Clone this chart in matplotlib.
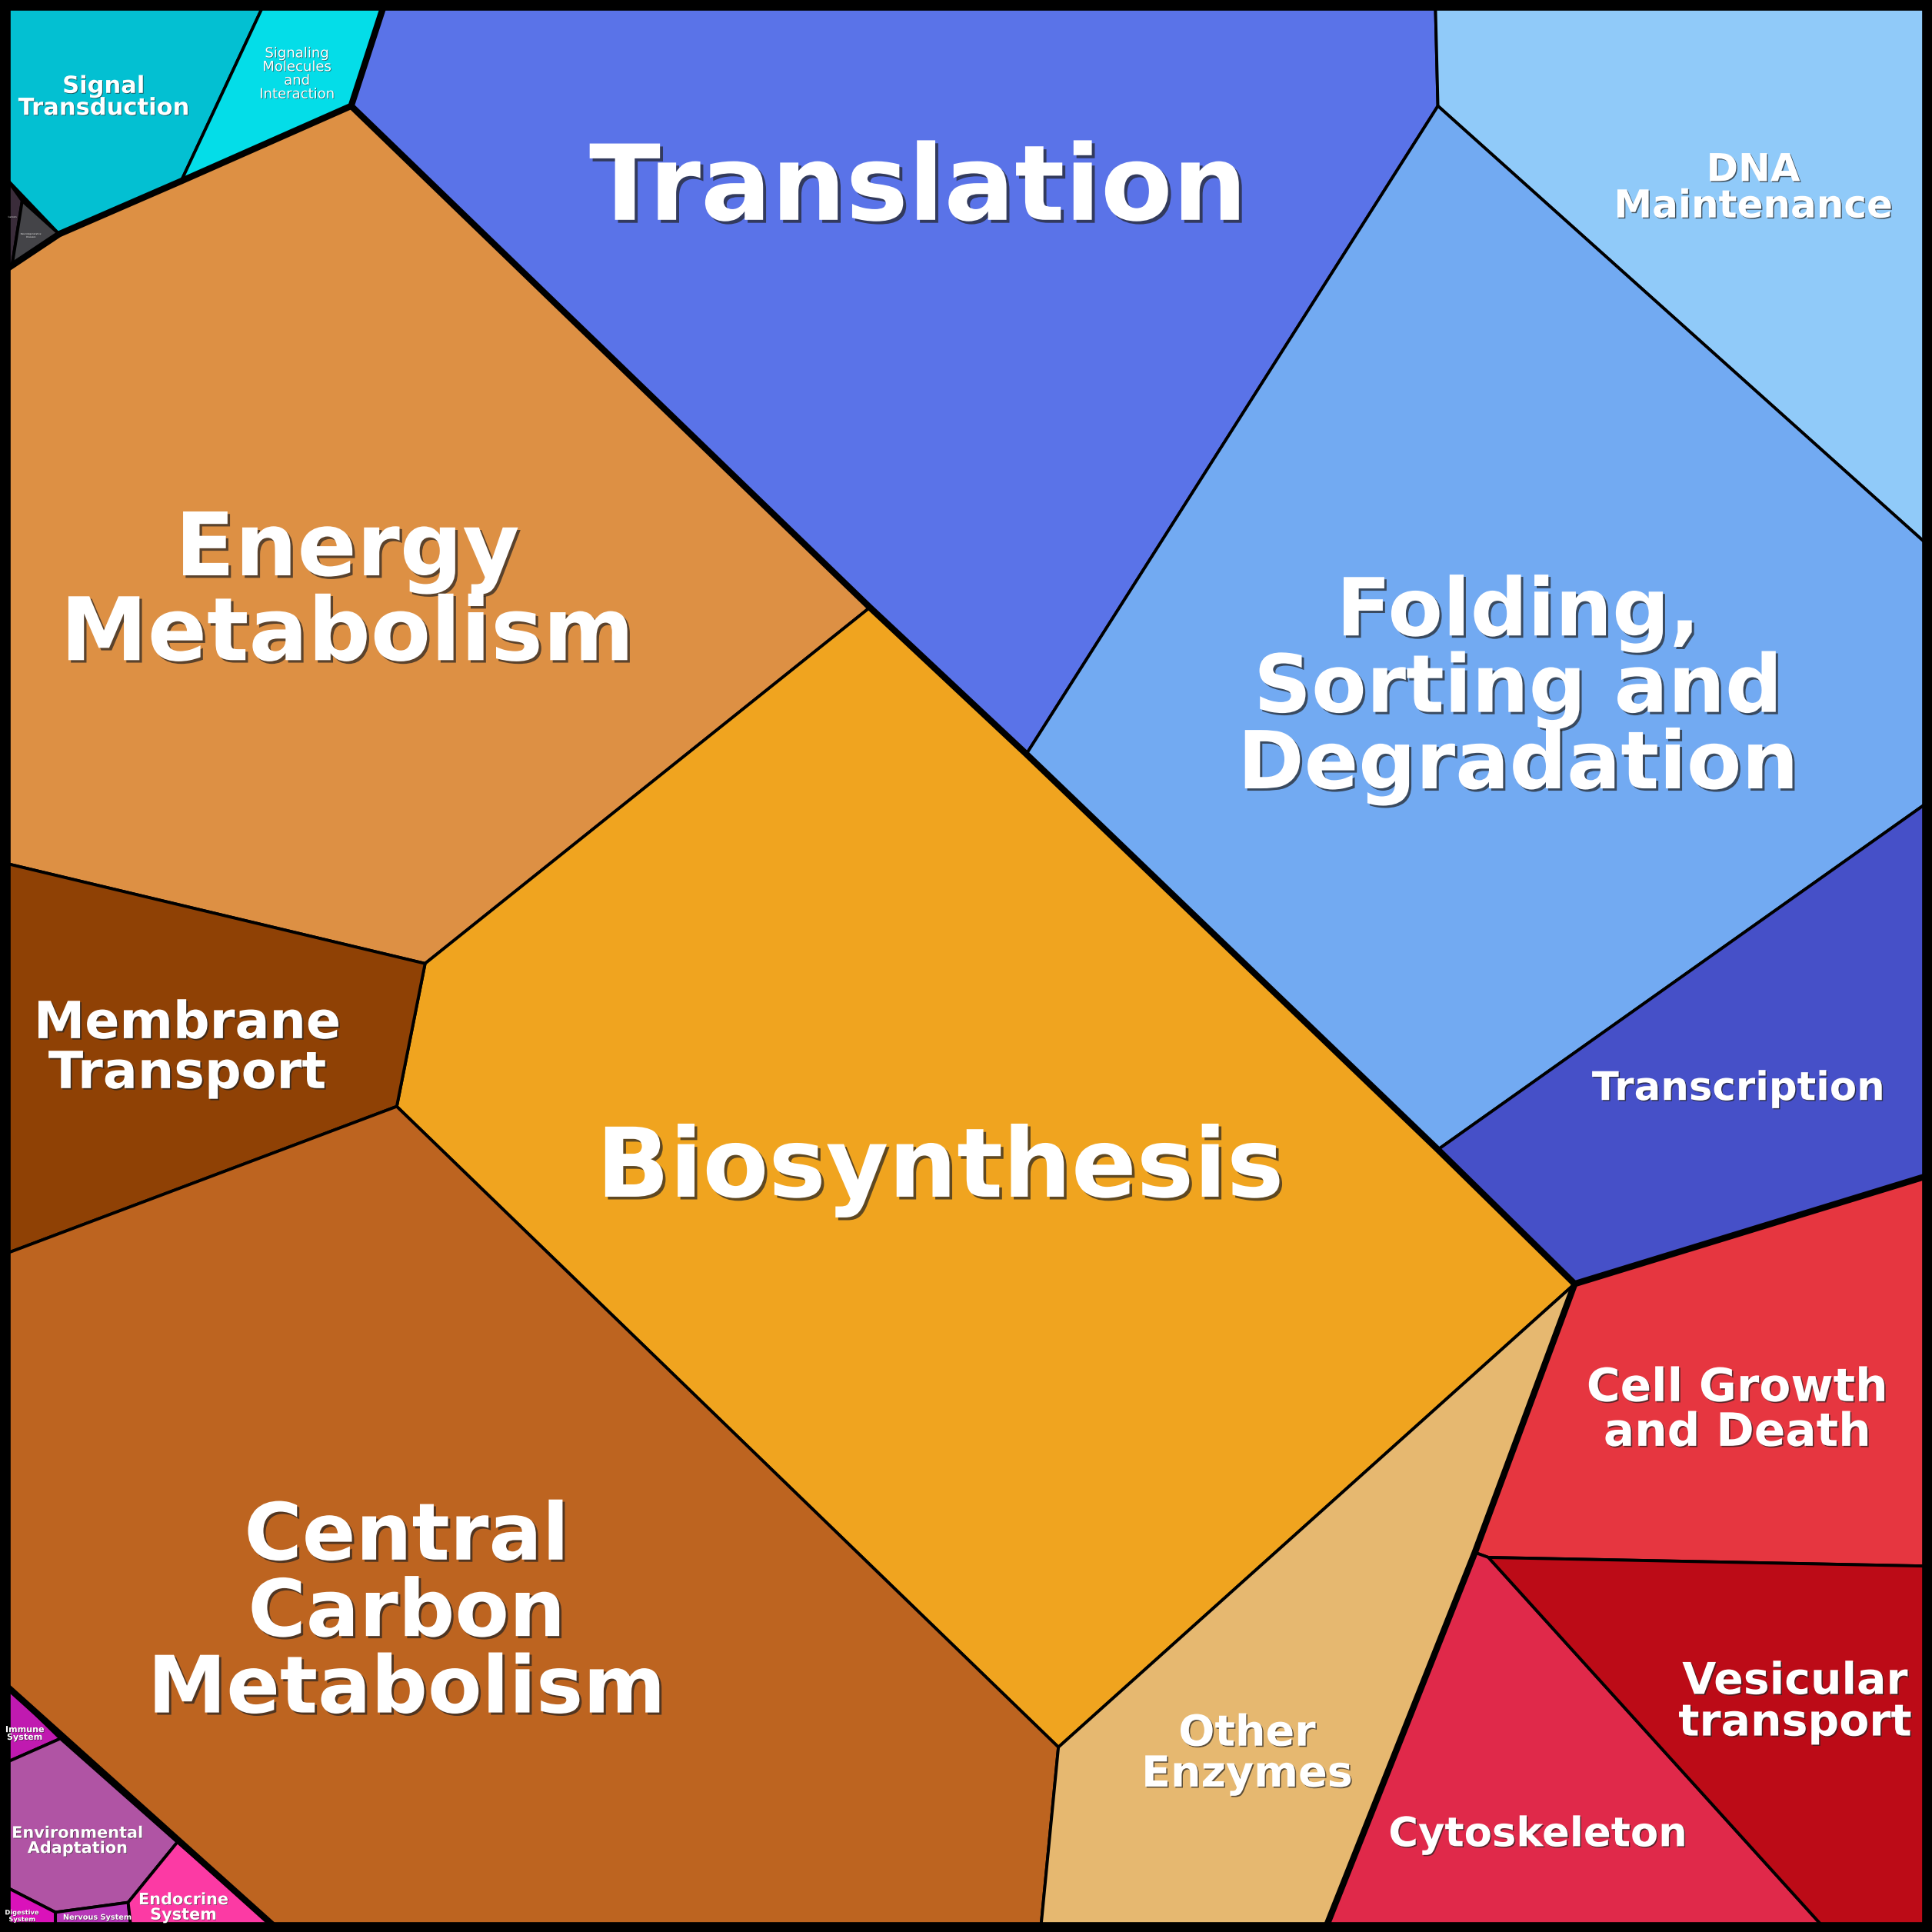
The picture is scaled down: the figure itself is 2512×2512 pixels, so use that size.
import matplotlib
matplotlib.use("Agg")
import matplotlib.pyplot as plt
from matplotlib.patches import Polygon
import matplotlib.patheffects as pe

names = ["Signal\nTransduction", "Signaling\nMolecules\nand\nInteraction", "Cancers",
         "Neurodegenerative\nDiseases", "Energy\nMetabolism", "Translation", "DNA\nMaintenance",
         "Folding,\nSorting and\nDegradation", "Transcription", "Biosynthesis", "Membrane\nTransport",
         "Central\nCarbon\nMetabolism", "Other\nEnzymes", "Cell Growth\nand Death", "Cytoskeleton",
         "Vesicular\ntransport", "Immune\nSystem", "Environmental\nAdaptation", "Digestive\nSystem",
         "Nervous System", "Endocrine\nSystem"]
colors = ["#03C0D2", "#04DDE8", "#3A2C3A", "#444448", "#DD9044", "#5A73E8", "#90CAF9",
          "#72AAF2", "#4650C8", "#F0A41F", "#8F4105", "#BD6420", "#E6B870", "#E63640",
          "#E0294A", "#BC0B17", "#C01AB0", "#B054A4", "#DA12BA", "#B838B8", "#FC3AA4"]
cells = [
    [(6, 6), (213, 6), (147, 147), (48, 190), (6, 146)],
    [(213, 6), (311, 6), (285, 86), (147, 147)],
    [(6, 146), (18, 163), (10, 214), (6, 216)],
    [(18, 163), (48, 190), (10, 214)],
    [(6, 218), (10, 214), (48, 190), (147, 147), (285, 86), (706, 493), (345, 782), (6, 701)],
    [(311, 6), (1165, 6), (1167, 86), (833, 612), (706, 493), (285, 86)],
    [(1165, 6), (1562, 6), (1562, 440), (1167, 86)],
    [(1167, 86), (1562, 440), (1562, 653), (1167, 933), (833, 612)],
    [(1167, 933), (1562, 653), (1562, 955), (1278, 1042)],
    [(706, 493), (833, 612), (1167, 933), (1278, 1042), (859, 1418), (322, 898), (345, 782)],
    [(6, 701), (345, 782), (322, 898), (6, 1017)],
    [(6, 1017), (322, 898), (859, 1418), (845, 1562), (221, 1562), (6, 1369)],
    [(1278, 1042), (1197, 1260), (1077, 1562), (845, 1562), (859, 1418)],
    [(1278, 1042), (1562, 955), (1562, 1271), (1208, 1264), (1197, 1260)],
    [(1197, 1260), (1208, 1264), (1478, 1562), (1077, 1562)],
    [(1208, 1264), (1562, 1271), (1562, 1562), (1478, 1562)],
    [(6, 1369), (49, 1411), (6, 1430)],
    [(6, 1430), (49, 1411), (144, 1495), (104, 1544), (45, 1552), (6, 1532)],
    [(6, 1532), (45, 1552), (45, 1562), (6, 1562)],
    [(45, 1552), (104, 1544), (106, 1562), (45, 1562)],
    [(104, 1544), (144, 1495), (221, 1562), (106, 1562)],
]
label_xy = [(84, 79), (241, 60), (10, 176), (25, 191), (282, 482), (745, 155), (1423, 153),
            (1232, 560), (1411, 884), (763, 950), (152, 851), (330, 1310), (1012, 1424),
            (1410, 1145), (1248, 1489), (1457, 1382), (20, 1407), (63, 1494), (18, 1555),
            (79, 1556), (149, 1548)]
font_pt = [22, 13, 2, 2, 82, 98, 36, 75, 37, 90, 48, 74, 40, 43, 38, 41, 8, 15, 6, 7, 15]
weights = ["bold", "normal", "normal", "normal"] + ["bold"] * 17
group_lines = [
    [(6, 218), (48, 190), (147, 147), (285, 86), (311, 6)],
    [(285, 86), (706, 493), (833, 612), (1167, 933), (1278, 1042)],
    [(1562, 955), (1278, 1042), (1197, 1260), (1077, 1562)],
    [(6, 1369), (221, 1562)],
]

fig = plt.figure(figsize=(25.12, 25.12), dpi=100)
ax = fig.add_axes([0, 0, 1, 1])
ax.set_xlim(0, 1568)
ax.set_ylim(1568, 0)
ax.axis("off")
fig.patch.set_facecolor("black")

for poly, c in zip(cells, colors):
    ax.add_patch(Polygon(poly, closed=True, facecolor=c, edgecolor="black", lw=2.8, joinstyle="round"))
for gl in group_lines:
    xs, ys = zip(*gl)
    ax.plot(xs, ys, color="black", lw=6, solid_joinstyle="round", solid_capstyle="round")

for name, (x, y), fs, w in zip(names, label_xy, font_pt, weights):
    off = max(fs / 35, 0.5)
    ax.text(x, y, name, ha="center", va="center", fontsize=fs, fontweight=w,
            color="white", linespacing=0.98, family="DejaVu Sans",
            path_effects=[pe.withSimplePatchShadow(offset=(off, -off), shadow_rgbFace="#222222", alpha=0.7)])

ax.add_patch(Polygon([(3, 3), (1565, 3), (1565, 1565), (3, 1565)], closed=True, fill=False,
                     edgecolor="black", lw=12))
fig.savefig("out.png", dpi=100, facecolor="black")
